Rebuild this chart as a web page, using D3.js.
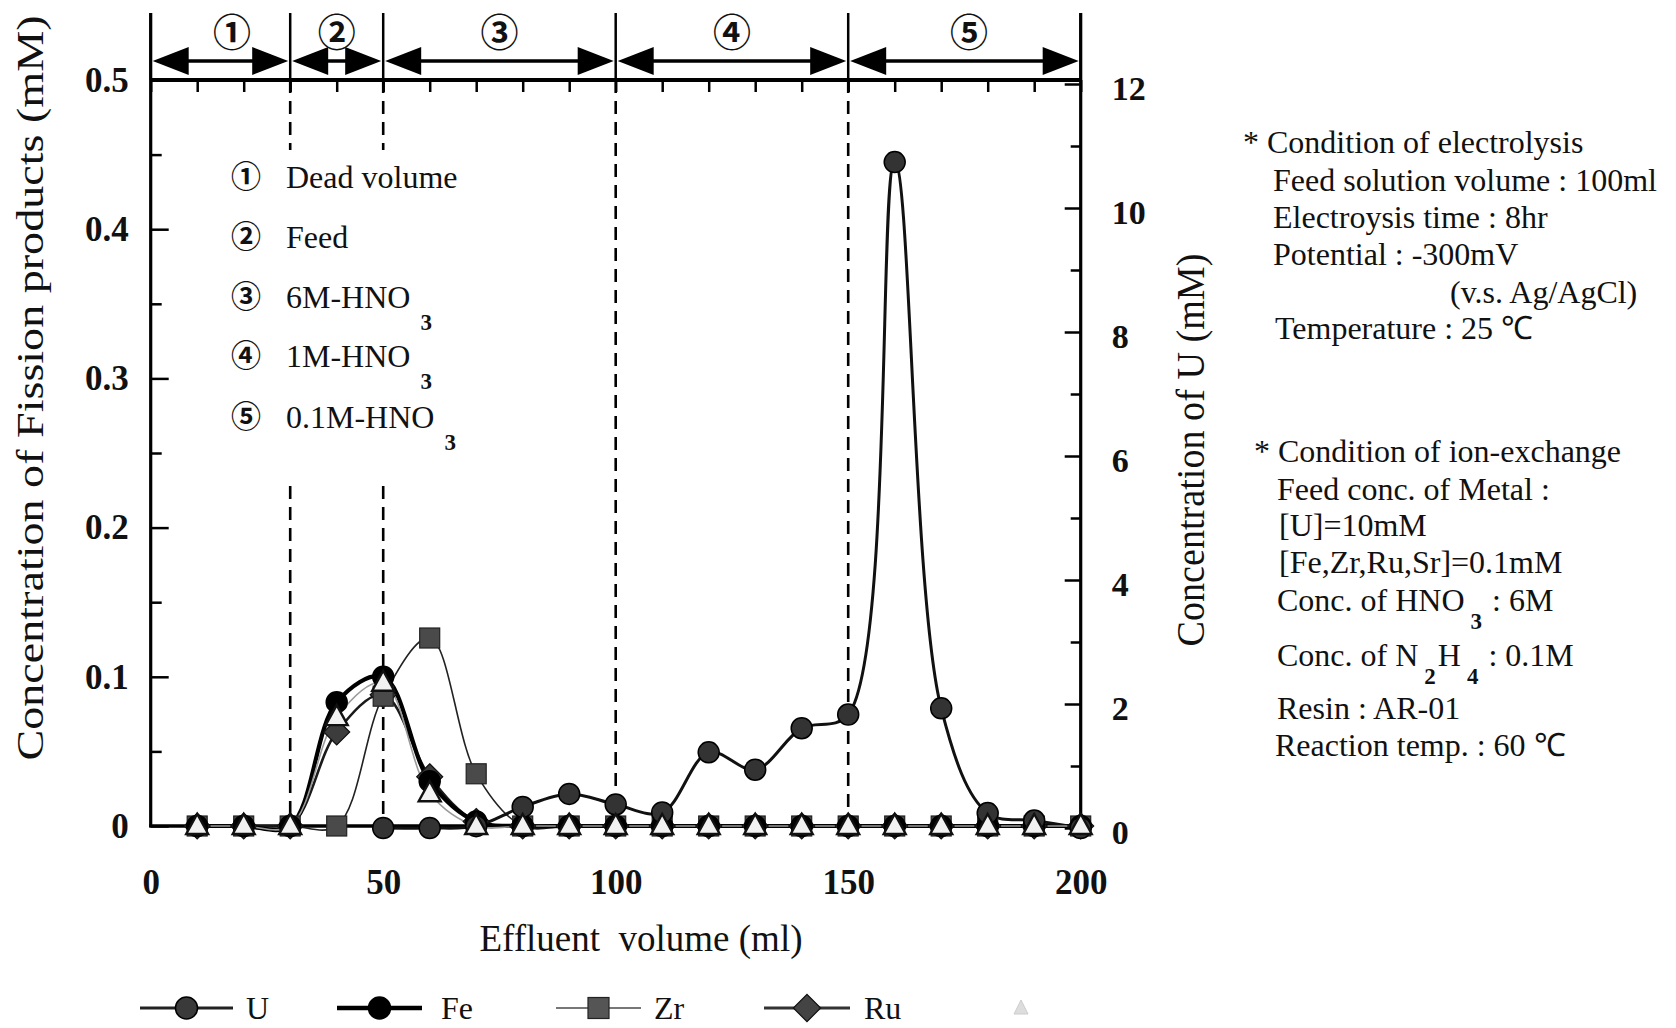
<!DOCTYPE html>
<html><head><meta charset="utf-8">
<script src="https://cdn.jsdelivr.net/npm/d3@7"></script>
<style>
html,body{margin:0;padding:0;background:#fff;}
svg{display:block;background:#fff;}
text{font-family:"Liberation Serif","Times New Roman",serif;fill:#111;}
</style></head><body>
<svg id="chart" width="1676" height="1028"></svg>
<script>
// ---------------- DATA ----------------
const volumes  = [10,20,30,40,50,60,70,80,90,100,110,120,130,140,150,160,170,180,190,200];
const uValues  = [null,null,null,null,0,0,0.03,0.34,0.55,0.38,0.25,1.22,0.94,1.61,1.83,10.74,1.93,0.24,0.12,0];
const feValues = [0,0,0,0.083,0.1,0.03,0.003,0,0,0,0,0,0,0,0,0,0,0,0,0];
const zrValues = [0,0,0,0,0.087,0.126,0.035,0,0,0,0,0,0,0,0,0,0,0,0,0];
const ruValues = [0,0,0,0.063,0.088,0.033,0.003,0,0,0,0,0,0,0,0,0,0,0,0,0];
const srValues = [0,0,0,0.073,0.096,0.022,0,0,0,0,0,0,0,0,0,0,0,0,0,0];

const xTicks      = [0,50,100,150,200];
const yLeftTicks  = [0,0.1,0.2,0.3,0.4,0.5];
const yRightTicks = [0,2,4,6,8,10,12];

const zoneEdges     = [0,30,50,100,150,200];
const zoneLabels    = ["①","②","③","④","⑤"];
const zoneLabelAt   = [17.5,40,75,125,176];
const dashedAt      = [30,50,100,150];

const phaseMarks = ["①","②","③","④","⑤"];
const phaseTexts = ["Dead volume","Feed","6M-HNO_{3}","1M-HNO_{3}","0.1M-HNO_{3}"];

const legendNames = ["U","Fe","Zr","Ru","Sr"];

const electrolysisLines = ["* Condition of electrolysis","Feed solution volume : 100ml","Electroysis time : 8hr","Potential : -300mV","(v.s. Ag/AgCl)","Temperature : 25 ℃"];
const ionExchangeLines  = ["* Condition of ion-exchange","Feed conc. of Metal :","[U]=10mM","[Fe,Zr,Ru,Sr]=0.1mM","Conc. of HNO_{3} : 6M","Conc. of N_{2}H_{4} : 0.1M","Resin : AR-01","Reaction temp. : 60 ℃"];

const xTitle = "Effluent  volume (ml)";
const yLeftTitle = "Concentration of Fission products (mM)";
const yRightTitle = "Concentration of U (mM)";

// ---------------- LAYOUT ----------------
const svg = d3.select("#chart");
const x  = d3.scaleLinear().domain([0,200]).range([150.7,1080.7]);
const yL = d3.scaleLinear().domain([0,0.5]).range([826,80]);
const yR = d3.scaleLinear().domain([0,12]).range([828,84]);
const serif = '"Liberation Serif","Times New Roman",serif';
const cjk = '"Noto Sans CJK JP","Noto Sans CJK SC",sans-serif';

function rich(sel, str, subSize, subDy, subDx){
  const parts = str.split(/_\{([^}]*)\}/);
  parts.forEach((p,i)=>{
    if(p==="") return;
    if(i%2===1){
      sel.append("tspan").attr("font-size",subSize).attr("font-weight",700).attr("dx",subDx).attr("dy",subDy).text(p);
    } else {
      const t = sel.append("tspan").text(p);
      if(i>0) t.attr("dy",-subDy).attr("dx",2);
    }
  });
}

// header vertical lines
const header = svg.append("g");
header.selectAll("line.zv").data(zoneEdges).join("line")
  .attr("x1",d=>x(d)).attr("x2",d=>x(d)).attr("y1",13).attr("y2",80)
  .attr("stroke","#000").attr("stroke-width",2.5);
const arrowY = 61, headL = 36, headH = 14;
zoneEdges.slice(0,-1).forEach((e,i)=>{
  const x1 = x(e)+2, x2 = x(zoneEdges[i+1])-2;
  header.append("line").attr("x1",x1+headL-4).attr("x2",x2-headL+4).attr("y1",arrowY).attr("y2",arrowY)
    .attr("stroke","#000").attr("stroke-width",3.5);
  header.append("path").attr("d",`M${x1},${arrowY}L${x1+headL},${arrowY-headH}L${x1+headL},${arrowY+headH}Z`).attr("fill","#000");
  header.append("path").attr("d",`M${x2},${arrowY}L${x2-headL},${arrowY-headH}L${x2-headL},${arrowY+headH}Z`).attr("fill","#000");
});
header.selectAll("text.zl").data(zoneLabels).join("text")
  .attr("x",(d,i)=>x(zoneLabelAt[i])).attr("y",32+14)
  .attr("text-anchor","middle").attr("font-weight",700)
  .attr("font-size",38).style("font-family",cjk).text(d=>d);

// dashed boundaries
const dash = svg.append("g");
dashedAt.forEach(v=>{
  const segs = v<=50 ? [[80,150],[486,826]] : [[80,826]];
  segs.forEach(s=>{
    dash.append("line").attr("x1",x(v)).attr("x2",x(v)).attr("y1",s[0]).attr("y2",s[1])
      .attr("stroke","#000").attr("stroke-width",2.6).attr("stroke-dasharray","13,8");
  });
});

// axes
const axesG = svg.append("g");
axesG.append("line").attr("x1",x(0)).attr("x2",x(200)).attr("y1",80).attr("y2",80).attr("stroke","#000").attr("stroke-width",4);
axesG.append("g").attr("transform","translate(0,80)")
  .call(d3.axisTop(x).tickValues(d3.range(0,201,10)).tickSize(-12).tickFormat(""))
  .call(g=>g.select(".domain").remove())
  .call(g=>g.selectAll("line").attr("stroke","#000").attr("stroke-width",2.5));
axesG.append("line").attr("x1",x(0)).attr("x2",x(0)).attr("y1",13).attr("y2",827).attr("stroke","#000").attr("stroke-width",3.2);
axesG.append("g").attr("transform",`translate(${x(0)},0)`)
  .call(d3.axisLeft(yL).tickValues(d3.range(0.05,0.5,0.1)).tickSize(-11).tickFormat(""))
  .call(g=>g.select(".domain").remove())
  .call(g=>g.selectAll("line").attr("stroke","#000").attr("stroke-width",2.5));
axesG.append("g").attr("transform",`translate(${x(0)},0)`)
  .call(d3.axisLeft(yL).tickValues(yLeftTicks).tickSize(-18).tickPadding(22).tickFormat(d=>d===0?"0":d3.format(".1f")(d)))
  .call(g=>g.select(".domain").remove())
  .call(g=>g.selectAll("line").attr("stroke","#000").attr("stroke-width",2.5))
  .call(g=>g.selectAll("text").attr("font-family",serif).attr("font-size",35).attr("font-weight",700).attr("fill","#111"));
axesG.append("line").attr("x1",x(200)).attr("x2",x(200)).attr("y1",13).attr("y2",827).attr("stroke","#000").attr("stroke-width",3.2);
axesG.append("g").attr("transform",`translate(${x(200)},0)`)
  .call(d3.axisRight(yR).tickValues(d3.range(1,12,2)).tickSize(-10).tickFormat(""))
  .call(g=>g.select(".domain").remove())
  .call(g=>g.selectAll("line").attr("stroke","#000").attr("stroke-width",2.5));
axesG.append("g").attr("transform",`translate(${x(200)},0)`)
  .call(d3.axisRight(yR).tickValues(yRightTicks).tickSize(-16).tickPadding(31))
  .call(g=>g.select(".domain").remove())
  .call(g=>g.selectAll("line").attr("stroke","#000").attr("stroke-width",2.5))
  .call(g=>g.selectAll("text").attr("font-family",serif).attr("font-size",34).attr("font-weight",700).attr("fill","#111").attr("dy","0.45em"));
axesG.append("line").attr("x1",x(0)-1.5).attr("x2",x(200)+1.5).attr("y1",826).attr("y2",826).attr("stroke","#000").attr("stroke-width",3.5);
axesG.append("g").attr("transform","translate(0,826)")
  .call(d3.axisBottom(x).tickValues(xTicks).tickSize(0).tickPadding(43))
  .call(g=>g.select(".domain").remove())
  .call(g=>g.selectAll("text").attr("font-family",serif).attr("font-size",35).attr("font-weight",700).attr("fill","#111"));

// titles
svg.append("text").attr("x",641).attr("y",938).attr("text-anchor","middle").attr("dominant-baseline","central")
  .attr("font-size",37).style("white-space","pre").text(xTitle);
svg.append("text").attr("transform","translate(30,388) rotate(-90)").attr("text-anchor","middle").attr("dominant-baseline","central")
  .attr("font-size",38).attr("textLength",745).attr("lengthAdjust","spacingAndGlyphs").text(yLeftTitle);
svg.append("text").attr("transform","translate(1190,450) rotate(-90)").attr("text-anchor","middle").attr("dominant-baseline","central")
  .attr("font-size",40).attr("textLength",393).attr("lengthAdjust","spacingAndGlyphs").text(yRightTitle);

// phase legend inside plot
const phaseY = [176,236,296,355,416];
const ph = svg.append("g");
phaseMarks.forEach((m,i)=>{
  ph.append("text").attr("x",246).attr("y",phaseY[i]+11).attr("text-anchor","middle")
    .style("font-family",cjk).attr("font-weight",700).attr("font-size",30).text(m);
  const t = ph.append("text").attr("x",286).attr("y",phaseY[i]+12).attr("font-size",32);
  rich(t, phaseTexts[i], 23, 22, 10);
});

// condition texts
const c1 = svg.append("g");
const c1y = [142,179.6,217,254.4,291.8,328];
const c1x = [1243,1273,1273,1273,1450,1275];
electrolysisLines.forEach((s,i)=>{
  const t = c1.append("text").attr("x",c1x[i]).attr("y",c1y[i]+11).attr("font-size",32);
  rich(t,s,23,18,6);
});
const c2 = svg.append("g");
const c2y = [451,488.5,524.8,562,599.7,655,707.6,745];
const c2x = [1254,1277,1279,1279,1277,1277,1277,1275];
ionExchangeLines.forEach((s,i)=>{
  const t = c2.append("text").attr("x",c2x[i]).attr("y",c2y[i]+11).attr("font-size",32);
  rich(t,s,23,18,6);
});

// ---------------- SERIES ----------------
const seriesDefs = [
  {name:"Ru", vals:ruValues, y:yL, stroke:"#1a1a1a", sw:2.6, shape:"diamond", fill:"#3c3c3c"},
  {name:"Zr", vals:zrValues, y:yL, stroke:"#222", sw:1.6, shape:"square", fill:"#4a4a4a"},
  {name:"Fe", vals:feValues, y:yL, stroke:"#000", sw:4.2, shape:"circle", fill:"#000"},
  {name:"U",  vals:uValues,  y:yR, stroke:"#111", sw:3, shape:"circle", fill:"#333"},
  {name:"Sr", vals:srValues, y:yL, stroke:"#9a9a9a", sw:1.6, shape:"triangle", fill:"#f2f2f2"}
];
const plot = svg.append("g");
seriesDefs.forEach(s=>{
  const pts = volumes.map((v,i)=>({v, c:s.vals[i]}));
  const line = d3.line().defined(d=>d.c!=null).x(d=>x(d.v)).y(d=>s.y(d.c)).curve(d3.curveCatmullRom.alpha(0.5));
  plot.append("path").attr("d",line(pts)).attr("fill","none").attr("stroke",s.stroke).attr("stroke-width",s.sw);
});
function marker(g, shape, cx, cy, fill, big){
  const k = big||1;
  if(shape==="circle") g.append("circle").attr("cx",cx).attr("cy",cy).attr("r",10.5*k).attr("fill",fill).attr("stroke","#000").attr("stroke-width",1.5);
  else if(shape==="square") g.append("rect").attr("x",cx-10*k).attr("y",cy-10*k).attr("width",20*k).attr("height",20*k).attr("fill",fill).attr("stroke","#222").attr("stroke-width",1.2);
  else if(shape==="diamond") g.append("path").attr("d",`M${cx},${cy-13*k}L${cx+13*k},${cy}L${cx},${cy+13*k}L${cx-13*k},${cy}Z`).attr("fill",fill).attr("stroke","#111").attr("stroke-width",1.2);
  else if(shape==="triangle") g.append("path").attr("d",`M${cx},${cy-12*k}L${cx+11*k},${cy+8*k}L${cx-11*k},${cy+8*k}Z`).attr("fill",fill).attr("stroke","#111").attr("stroke-width",2.4);
}
seriesDefs.forEach(s=>{
  volumes.forEach((v,i)=>{
    if(s.vals[i]==null) return;
    marker(plot, s.shape, x(v), s.y(s.vals[i]), s.fill);
  });
});

// ---------------- LEGEND ----------------
const lg = svg.append("g");
const legY = 1008;
const legLayout = [
  {name:"U",  x0:140, x1:233, lw:3,   stroke:"#222", shape:"circle", fill:"#3a3a3a", tx:246, color:"#333"},
  {name:"Fe", x0:337, x1:422, lw:4.5, stroke:"#000", shape:"circle", fill:"#000", tx:441, color:"#111"},
  {name:"Zr", x0:556, x1:641, lw:2,   stroke:"#777", shape:"square", fill:"#555", tx:654, color:"#888"},
  {name:"Ru", x0:764, x1:850, lw:3,   stroke:"#333", shape:"diamond", fill:"#444", tx:864, color:"#555"}
];
legLayout.forEach(l=>{
  lg.append("line").attr("x1",l.x0).attr("x2",l.x1).attr("y1",legY).attr("y2",legY).attr("stroke",l.stroke).attr("stroke-width",l.lw);
  marker(lg,l.shape,(l.x0+l.x1)/2,legY,l.fill,1.05);
  lg.append("text").attr("x",l.tx).attr("y",legY+11).attr("font-size",32).attr("fill",l.color).text(legendNames[legendNames.indexOf(l.name)]);
});
lg.append("path").attr("d",`M1021,${legY-8}L1028,${legY+6}L1014,${legY+6}Z`).attr("fill","#ddd").attr("stroke","#ccc");
</script>
</body></html>
